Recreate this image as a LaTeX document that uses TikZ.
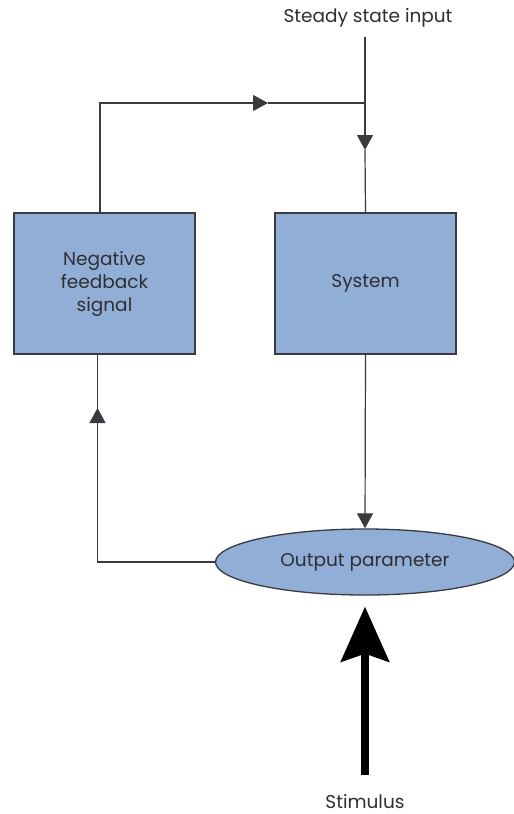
\documentclass[tikz,border=0pt]{standalone}
\usepackage{fontspec}
\setmainfont{Poppins}
\usetikzlibrary{arrows.meta,shapes.geometric}
\definecolor{blockfill}{HTML}{91AFD6}
\definecolor{blockline}{HTML}{3A3A40}
\definecolor{labelgrey}{HTML}{2E2E33}

\begin{document}
\begin{tikzpicture}[x=1pt,y=-1pt,
  block/.style={draw=blockline, line width=1.3pt, fill=blockfill, minimum width=181pt, minimum height=141pt, inner sep=0pt, align=center, text=labelgrey, font=\fontsize{18.5}{23}\selectfont},
  wire/.style={draw=blockline, line width=1.2pt},
  tip/.style={-{Triangle[length=15pt,width=16pt]}},
  label/.style={text=labelgrey, font=\fontsize{18.5}{22}\selectfont, inner sep=0pt}]
\useasboundingbox (0,0) rectangle (514,814);
% blocks
\node[block] (neg) at (104.5,283.5) {Negative\\feedback\\signal};
\node[block] (sys) at (365.5,283.5) {System};
\node[block, ellipse, minimum width=299pt, minimum height=66pt] (out) at (365,562) {Output parameter};
% labels
\node[label] (steady) at (368,18) {Steady state input};
\node[label] (stim) at (365,802) {Stimulus};
\coordinate (intop) at (365,37);
\coordinate (junction) at (365,103);
\coordinate (toptip) at (268,103);
\coordinate (downtip) at (365,150);
\coordinate (fbtip) at (97.5,408);
% input and system
\draw[wire, tip] (intop) -- (downtip);
\draw[wire] (downtip) -- (sys.north);
\draw[wire, tip] (sys.south) -- (out.north);
% feedback loop
\draw[wire] (out.west) -| (fbtip);
\draw[wire, tip] ([xshift=-7pt]neg.south |- out.west) -- (fbtip);
\draw[wire] (fbtip) -- ([xshift=-7pt]neg.south);
\draw[wire, tip] ([xshift=-4.5pt]neg.north) |- (toptip);
\draw[wire] (toptip) -- (junction);
% stimulus
\draw[line width=8pt, draw=black, -{Stealth[length=55pt,width=48pt,inset=8pt]}, shorten <=20pt, shorten >=11pt] (stim.north) -- (out.south);
\end{tikzpicture}
\end{document}
